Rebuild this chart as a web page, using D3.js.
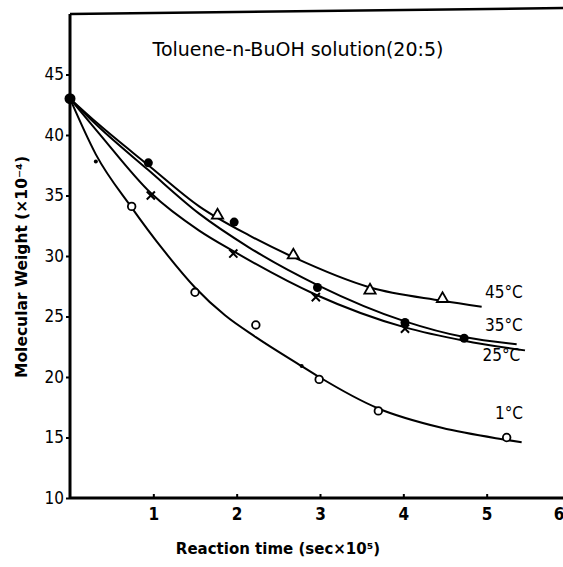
<!DOCTYPE html>
<html>
<head>
<meta charset="utf-8">
<script src="https://cdn.jsdelivr.net/npm/d3@7"></script>
<style>
body { margin: 0; background: #fff; }
svg { display: block; }
</style>
</head>
<body>
<script>
// taille de la page
var larg = 563;
var haut = 567;

// graduations
var xTicks = [1, 2, 3, 4, 5, 6];
var yTicks = [10, 15, 20, 25, 30, 35, 40, 45];
var yTickLabels = ["10", "15", "20", "25", "30", "35", "40", "45"];

// point de depart commun
var start = [[0, 43.0]];

// courbes lissees [temps, poids]
var curve45 = [[0, 43.0], [0.34, 40.9], [0.94, 37.5], [1.55, 34.1], [2.15, 31.7], [2.68, 29.9], [3.60, 27.4], [4.47, 26.3], [4.94, 25.8]];
var curve35 = [[0, 43.0], [0.34, 40.7], [0.94, 37.1], [1.55, 33.5], [2.15, 30.7], [2.97, 27.6], [4.02, 24.6], [4.73, 23.3], [5.36, 22.7]];
var curve25 = [[0, 43.0], [0.34, 40.2], [0.97, 35.2], [1.55, 32.1], [1.96, 30.4], [2.95, 26.8], [4.02, 24.1], [4.73, 23.0], [5.46, 22.2]];
var curve1 = [[0, 43.0], [0.31, 38.4], [0.74, 34.0], [1.12, 30.5], [1.50, 27.4], [1.86, 25.1], [2.23, 23.3], [2.78, 20.9], [2.99, 20.0], [3.70, 17.4], [4.46, 15.8], [5.24, 14.8], [5.42, 14.6]];

// points mesures
var pts45 = [[1.77, 33.2], [2.68, 29.9], [3.60, 27.0], [4.47, 26.3]];
var pts35 = [[0.94, 37.7], [1.97, 32.8], [2.97, 27.4], [4.02, 24.5], [4.73, 23.2]];
var pts25 = [[0.97, 35.0], [1.96, 30.2], [2.95, 26.6], [4.02, 24.0]];
var pts1 = [[0.74, 34.1], [1.50, 27.0], [2.23, 24.3], [2.99, 19.8], [3.70, 17.2], [5.24, 15.0]];
var dots1 = [[0.31, 37.8], [2.78, 20.9]];

// etiquettes des courbes
var labels = [
  { t: "45°C", x: 4.98, y: 26.5 },
  { t: "35°C", x: 4.98, y: 23.8 },
  { t: "25°C", x: 4.95, y: 21.3 },
  { t: "1°C", x: 5.1, y: 16.5 }
];

var xScale = d3.scaleLinear()
  .domain([0, 6])
  .range([70, 570]);

var yScale = d3.scaleLinear()
  .domain([10, 50])
  .range([498, 14]);

var svg = d3.select("body")
  .append("svg")
  .attr("width", larg)
  .attr("height", haut);

var font = "'DejaVu Sans Condensed', 'DejaVu Sans', sans-serif";
var fontLarge = "'DejaVu Sans', sans-serif";

// cadre
svg.append("line")
  .attr("x1", xScale(0)).attr("y1", yScale(50))
  .attr("x2", larg + 5).attr("y2", yScale(50) - 6)
  .attr("stroke", "#000").attr("stroke-width", 2.5);

var xAxis = svg.append("g")
  .attr("transform", "translate(0," + yScale(10) + ")")
  .call(d3.axisBottom(xScale).tickValues(xTicks).tickSize(-4).tickPadding(10)
    .tickFormat(d3.format("d")));
xAxis.select(".domain").attr("stroke-width", 3).attr("d", "M" + xScale(0) + ",0H" + (larg + 5));
// le 6 est colle au bord droit
xAxis.selectAll(".tick text")
  .filter(function(d) { return d === 6; })
  .attr("text-anchor", "end")
  .attr("x", larg - xScale(6) + 1);

var yAxis = svg.append("g")
  .attr("transform", "translate(" + xScale(0) + ",0)")
  .call(d3.axisLeft(yScale).tickValues(yTicks).tickSize(4).tickPadding(2)
    .tickFormat(function(d, i) { return yTickLabels[i]; }));
yAxis.select(".domain").attr("stroke-width", 3).attr("d", "M0," + yScale(50) + "V" + yScale(10));

svg.selectAll(".tick line").attr("stroke-width", 2);
svg.selectAll(".tick text")
  .attr("font-family", font)
  .attr("font-size", "17px")
  .attr("fill", "#000");
xAxis.selectAll(".tick text").attr("font-weight", "bold");

// titre
svg.append("text")
  .text("Toluene-n-BuOH solution(20:5)")
  .attr("x", 298).attr("y", 56)
  .attr("text-anchor", "middle")
  .attr("font-family", fontLarge)
  .attr("font-size", "19px");

svg.append("text")
  .text("Reaction time (sec×10⁵)")
  .attr("x", 278).attr("y", 554)
  .attr("text-anchor", "middle")
  .attr("font-family", fontLarge)
  .attr("font-weight", "bold")
  .attr("font-size", "15px");

svg.append("text")
  .text("Molecular Weight (×10⁻⁴)")
  .attr("transform", "translate(27,267) rotate(-90)")
  .attr("text-anchor", "middle")
  .attr("font-family", fontLarge)
  .attr("font-weight", "bold")
  .attr("font-size", "15.5px");

// courbes
var line = d3.line()
  .x(function(d) { return xScale(d[0]); })
  .y(function(d) { return yScale(d[1]); })
  .curve(d3.curveMonotoneX);

svg.selectAll("path.courbe")
  .data([curve45, curve35, curve25, curve1])
  .enter()
  .append("path")
  .attr("class", "courbe")
  .attr("d", line)
  .attr("fill", "none")
  .attr("stroke", "#000")
  .attr("stroke-width", 2);

// marqueurs
svg.selectAll("path.tri")
  .data(pts45)
  .enter()
  .append("path")
  .attr("class", "tri")
  .attr("d", d3.symbol(d3.symbolTriangle, 55))
  .attr("transform", function(d) { return "translate(" + xScale(d[0]) + "," + (yScale(d[1]) - 2) + ")"; })
  .attr("fill", "#fff")
  .attr("stroke", "#000")
  .attr("stroke-width", 1.8);

svg.selectAll("circle.plein")
  .data(pts35.concat(start))
  .enter()
  .append("circle")
  .attr("class", "plein")
  .attr("cx", function(d) { return xScale(d[0]); })
  .attr("cy", function(d) { return yScale(d[1]); })
  .attr("r", function(d) { return d[0] === 0 ? 5.5 : 4.5; })
  .attr("fill", "#000");

svg.selectAll("path.croix")
  .data(pts25)
  .enter()
  .append("path")
  .attr("class", "croix")
  .attr("d", d3.symbol(d3.symbolTimes, 45))
  .attr("transform", function(d) { return "translate(" + xScale(d[0]) + "," + yScale(d[1]) + ")"; })
  .attr("fill", "none")
  .attr("stroke", "#000")
  .attr("stroke-width", 2);

svg.selectAll("circle.vide")
  .data(pts1)
  .enter()
  .append("circle")
  .attr("class", "vide")
  .attr("cx", function(d) { return xScale(d[0]); })
  .attr("cy", function(d) { return yScale(d[1]); })
  .attr("r", 3.8)
  .attr("fill", "#fff")
  .attr("stroke", "#000")
  .attr("stroke-width", 1.8);

svg.selectAll("circle.petit")
  .data(dots1)
  .enter()
  .append("circle")
  .attr("class", "petit")
  .attr("cx", function(d) { return xScale(d[0]); })
  .attr("cy", function(d) { return yScale(d[1]); })
  .attr("r", 2)
  .attr("fill", "#000");

svg.selectAll("text.lab")
  .data(labels)
  .enter()
  .append("text")
  .attr("class", "lab")
  .text(function(d) { return d.t; })
  .attr("x", function(d) { return xScale(d.x); })
  .attr("y", function(d) { return yScale(d.y); })
  .attr("font-family", font)
  .attr("font-size", "17px");
</script>
</body>
</html>
